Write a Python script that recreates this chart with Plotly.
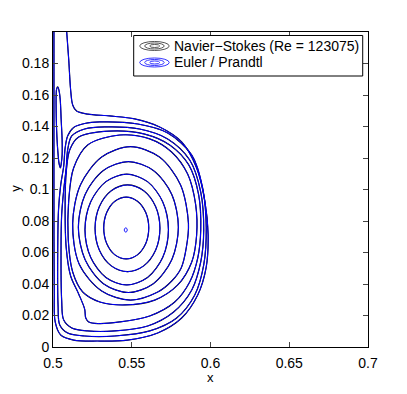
import plotly.graph_objects as go

# streamlines (x, y in data units), innermost first
ring1_x = [0.5465, 0.5536, 0.5589, 0.5608, 0.5589, 0.5536, 0.5465, 0.5393, 0.5341, 0.5322, 0.5341, 0.5393, 0.5465]
ring1_y = [0.0952, 0.0926, 0.0854, 0.0756, 0.0657, 0.0585, 0.0559, 0.0585, 0.0657, 0.0756, 0.0854, 0.0926, 0.0952]

ring2_x = [0.5473, 0.5576, 0.5652, 0.5679, 0.5652, 0.5576, 0.5473, 0.5370, 0.5294, 0.5267, 0.5294, 0.5370, 0.5473]
ring2_y = [0.1029, 0.0992, 0.0891, 0.0754, 0.0616, 0.0515, 0.0478, 0.0515, 0.0616, 0.0754, 0.0891, 0.0992, 0.1029]

ring3_x = [0.5468, 0.5600, 0.5697, 0.5733, 0.5697, 0.5600, 0.5468, 0.5336, 0.5239, 0.5203, 0.5239, 0.5336, 0.5468]
ring3_y = [0.1097, 0.1050, 0.0921, 0.0745, 0.0570, 0.0441, 0.0394, 0.0441, 0.0570, 0.0745, 0.0921, 0.1050, 0.1097]

ring4_x = [0.5479, 0.5637, 0.5754, 0.5796, 0.5754, 0.5637, 0.5479, 0.5320, 0.5204, 0.5161, 0.5204, 0.5320, 0.5479]
ring4_y = [0.1177, 0.1121, 0.0969, 0.0761, 0.0554, 0.0402, 0.0346, 0.0402, 0.0554, 0.0761, 0.0969, 0.1121, 0.1177]

# kink on its lower right side
ring5_x = [0.5492, 0.5676, 0.5810, 0.5860, 0.5846, 0.5814, 0.5754, 0.5665, 0.5492, 0.5309, 0.5166, 0.5125, 0.5174, 0.5309, 0.5492]
ring5_y = [0.1272, 0.1206, 0.1029, 0.0785, 0.0629, 0.0502, 0.0419, 0.0349, 0.0298, 0.0356, 0.0527, 0.0785, 0.1029, 0.1206, 0.1272]

ring6_x = [0.5424, 0.5614, 0.5753, 0.5855, 0.5906, 0.5912, 0.5881, 0.5792, 0.5646, 0.5455,
           0.5297, 0.5189, 0.5125, 0.5097, 0.5100, 0.5131, 0.5220, 0.5424]
ring6_y = [0.1346, 0.1321, 0.1238, 0.1098, 0.0902, 0.0711, 0.0540, 0.0394, 0.0298, 0.0267,
           0.0286, 0.0349, 0.0476, 0.0679, 0.0933, 0.1137, 0.1283, 0.1346]

# kink at the lower left corner
ring7_x = [0.5360, 0.5582, 0.5741, 0.5862, 0.5925, 0.5938, 0.5919, 0.5868, 0.5773, 0.5614, 0.5423, 0.5284,
           0.5227, 0.5208, 0.5201, 0.5163, 0.5112, 0.5084, 0.5077, 0.5084, 0.5106, 0.5163, 0.5360]
ring7_y = [0.1371, 0.1352, 0.1283, 0.1156, 0.0965, 0.0743, 0.0565, 0.0413, 0.0286, 0.0197, 0.0159, 0.0149,
           0.0159, 0.0184, 0.0241, 0.0337, 0.0451, 0.0629, 0.0902, 0.1111, 0.1251, 0.1333, 0.1371]

ring8_x = [0.5328, 0.5550, 0.5728, 0.5868, 0.5938, 0.5957, 0.5938, 0.5881, 0.5766, 0.5601, 0.5392, 0.5220,
           0.5119, 0.5068, 0.5055, 0.5051, 0.5055, 0.5068, 0.5084, 0.5093, 0.5119, 0.5201, 0.5328]
ring8_y = [0.1397, 0.1384, 0.1321, 0.1187, 0.0984, 0.0743, 0.0540, 0.0362, 0.0222, 0.0133, 0.0102, 0.0102,
           0.0121, 0.0171, 0.0298, 0.0616, 0.0838, 0.0997, 0.1137, 0.1251, 0.1340, 0.1384, 0.1397]

ring9_x = [0.5297, 0.5538, 0.5728, 0.5881, 0.5950, 0.5973, 0.5957, 0.5900, 0.5785, 0.5614, 0.5392, 0.5201,
           0.5093, 0.5043, 0.5032, 0.5030, 0.5035, 0.5049, 0.5068, 0.5077, 0.5093, 0.5131, 0.5201, 0.5297]
ring9_y = [0.1429, 0.1416, 0.1359, 0.1219, 0.1010, 0.0756, 0.0521, 0.0330, 0.0184, 0.0102, 0.0070, 0.0070,
           0.0089, 0.0140, 0.0267, 0.0616, 0.0870, 0.1029, 0.1149, 0.1263, 0.1340, 0.1394, 0.1419, 0.1429]

# open streamline: leaves through the top, wraps the vortex, comes back up the wall
outer_x = [0.5087, 0.5100, 0.5112, 0.5125, 0.5150, 0.5220, 0.5360, 0.5519, 0.5677, 0.5817, 0.5912, 0.5963, 0.5985,
           0.5972, 0.5919, 0.5817, 0.5665, 0.5474, 0.5284, 0.5131, 0.5049, 0.5014, 0.5008, 0.5006, 0.5006, 0.5006]
outer_y = [0.2000, 0.1822, 0.1632, 0.1537, 0.1498, 0.1479, 0.1467, 0.1448, 0.1397, 0.1302, 0.1137, 0.0933, 0.0711,
           0.0502, 0.0330, 0.0184, 0.0089, 0.0044, 0.0038, 0.0044, 0.0076, 0.0159, 0.0362, 0.0933, 0.1568, 0.2000]

# thin secondary loop at the wall
tongue_x = [0.5030, 0.5039, 0.5046, 0.5052, 0.5058, 0.5058, 0.5052, 0.5047, 0.5039, 0.5030, 0.5023, 0.5020, 0.5020, 0.5023, 0.5030]
tongue_y = [0.1651, 0.1625, 0.1568, 0.1441, 0.1314, 0.1219, 0.1162, 0.1137, 0.1162, 0.1251, 0.1378, 0.1505, 0.1600, 0.1638, 0.1651]

# tiny level around the centre, only in the Euler solution
eye_x = [0.5462, 0.5469, 0.5471, 0.5469, 0.5462, 0.5455, 0.5453, 0.5455, 0.5462]
eye_y = [0.0756, 0.0752, 0.0743, 0.0734, 0.0730, 0.0734, 0.0743, 0.0752, 0.0756]

x_ticks = [0.5, 0.55, 0.6, 0.65, 0.7]
x_labels = ["0.5", "0.55", "0.6", "0.65", "0.7"]
y_ticks = [0, 0.02, 0.04, 0.06, 0.08, 0.1, 0.12, 0.14, 0.16, 0.18]
y_labels = ["0", "0.02", "0.04", "0.06", "0.08", "0.1", "0.12", "0.14", "0.16", "0.18"]

ns_lines = [(ring1_x, ring1_y), (ring2_x, ring2_y), (ring3_x, ring3_y), (ring4_x, ring4_y),
            (ring5_x, ring5_y), (ring6_x, ring6_y), (ring7_x, ring7_y), (ring8_x, ring8_y),
            (ring9_x, ring9_y), (outer_x, outer_y), (tongue_x, tongue_y)]
euler_lines = ns_lines + [(eye_x, eye_y)]

FONT = "Liberation Sans, Arial, Helvetica, sans-serif"

fig = go.Figure()

# Navier-Stokes underneath in black, Euler/Prandtl on top in blue
for lx, ly in ns_lines:
    fig.add_trace(go.Scatter(x=lx, y=ly, mode="lines", showlegend=False, hoverinfo="skip",
                             line=dict(color="#000000", width=1.2, shape="spline", smoothing=0.9)))
for lx, ly in euler_lines:
    fig.add_trace(go.Scatter(x=lx, y=ly, mode="lines", showlegend=False, hoverinfo="skip",
                             line=dict(color="#0000ff", width=1.0, shape="spline", smoothing=0.9)))

# MATLAB-style legend with contour icons
shapes = [dict(type="rect", xref="paper", yref="paper", x0=0.2562, x1=0.9832, y0=0.8603, y1=0.9889,
               line=dict(color="black", width=1), fillcolor="white", layer="above")]
for cy, col in [(0.9556, "#555555"), (0.9032, "#3333ff")]:
    for x0, x1, h in [(0.2752, 0.3689, 0.0143), (0.2911, 0.3530, 0.0095), (0.3070, 0.3387, 0.0048)]:
        shapes.append(dict(type="circle", xref="paper", yref="paper", x0=x0, x1=x1, y0=cy - h, y1=cy + h,
                           line=dict(color=col, width=1), layer="above"))

annotations = [
    dict(text="Navier\u2212Stokes (Re = 123075)", x=0.3768, y=0.9556),
    dict(text="Euler / Prandtl", x=0.3768, y=0.9032),
]
for a in annotations:
    a.update(xref="paper", yref="paper", xanchor="left", yanchor="middle", showarrow=False,
             font=dict(family=FONT, size=14, color="black"))
# axis titles placed like MATLAB's
annotations.append(dict(text="x", x=0.5, y=-0.098, xref="paper", yref="paper", showarrow=False,
                        xanchor="center", yanchor="middle", font=dict(family=FONT, size=13)))
annotations.append(dict(text="y", x=-0.118, y=0.505, xref="paper", yref="paper", showarrow=False,
                        textangle=-90, xanchor="center", yanchor="middle", font=dict(family=FONT, size=13)))

# the page body adds 8px on the top/left, so the figure is shrunk by that much
fig.update_layout(
    width=391, height=378,
    margin=dict(l=45, r=31, t=24, b=39, autoexpand=False),
    paper_bgcolor="white", plot_bgcolor="white",
    font=dict(family=FONT, size=14, color="black"),
    shapes=shapes,
    annotations=annotations,
    showlegend=False,
)
fig.update_xaxes(range=[0.5, 0.7], tickvals=x_ticks, ticktext=x_labels, ticks="inside", ticklen=5,
                 showline=True, linecolor="black", linewidth=1, mirror="ticks", showgrid=False, zeroline=False,
                 automargin=False, ticklabelstandoff=3)
fig.update_yaxes(range=[0, 0.2], tickvals=y_ticks, ticktext=y_labels, ticks="inside", ticklen=5,
                 showline=True, linecolor="black", linewidth=1, mirror="ticks", showgrid=False, zeroline=False,
                 automargin=False)

fig.write_html("out.html")
